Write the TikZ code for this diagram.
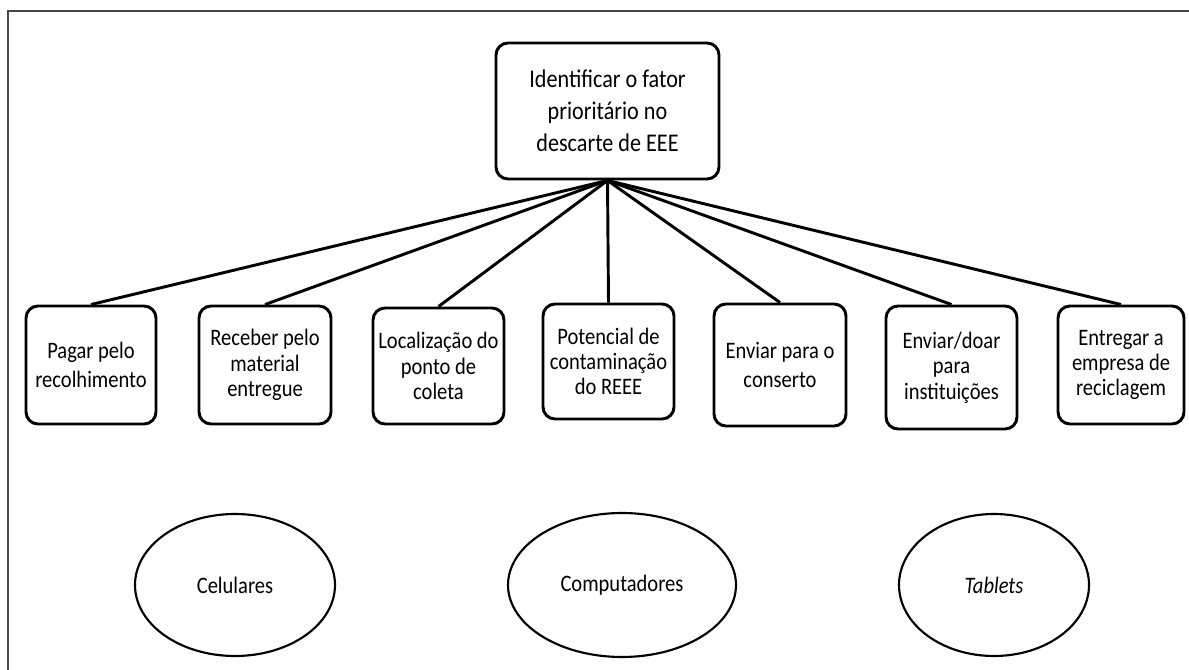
\documentclass[tikz,border=0pt]{standalone}
\usepackage{fontspec}
\setmainfont{Carlito}[FakeStretch=0.87]
\usetikzlibrary{shapes.geometric}
\begin{document}
\begin{tikzpicture}[x=0.75pt,y=-0.75pt,
  sized/.style 2 args={minimum width=#1*0.75pt, minimum height=#2*0.75pt},
  box/.style={draw, line width=2.2pt, rounded corners=9pt, align=center, inner sep=0pt,
    font=\fontsize{17.7}{19}\selectfont},
  twoline/.style={font=\fontsize{17.7}{21.5}\selectfont},
  topbox/.style={box, font=\fontsize{19.1}{24}\selectfont},
  link/.style={line width=2.2pt},
  oval/.style={draw, ellipse, line width=1.6pt, inner sep=0pt,
    font=\fontsize{17.7}{19}\selectfont},
  frame/.style={line width=1.6pt, black!72}]
\useasboundingbox (0,0) rectangle (1189,670);
\draw[frame] (8,670) -- (8,11) -- (1189,11);

\node[topbox, sized={223}{136}] (top) at (607.5,111) {Identificar o fator\\prioritário no\\descarte de EEE};

\node[box, twoline, sized={130}{118}] (b1) at (91,365) {Pagar pelo\\recolhimento};
\node[box, sized={132}{118}] (b2) at (265,365) {Receber pelo\\material\\entregue};
\node[box, sized={131}{116}] (b3) at (438.5,366) {Localização do\\ponto de\\coleta};
\node[box, sized={131}{115}] (b4) at (608.5,361.5) {Potencial de\\contaminação\\do REEE};
\node[box, twoline, sized={132}{122}] (b5) at (780,365) {Enviar para o\\conserto};
\node[box, sized={131}{123}] (b6) at (951.5,367.5) {Enviar/doar\\para\\instituições};
\node[box, sized={126}{118}] (b7) at (1121,365) {Entregar a\\empresa de\\reciclagem};

\foreach \b in {b1,b2,b3,b4,b5,b6,b7}
  \draw[link] (top.south) -- (\b.north);

\node[oval, sized={200}{142}] (e1) at (235,585) {Celulares};
\node[oval, sized={228}{144}] (e2) at (622,585) {Computadores};
\node[oval, sized={190}{142}] (e3) at (994,585) {\itshape Tablets};
\end{tikzpicture}
\end{document}
